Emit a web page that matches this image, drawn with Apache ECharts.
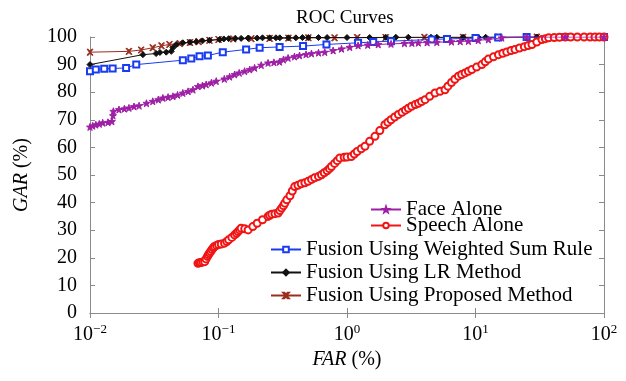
<!DOCTYPE html>
<html>
<head>
<meta charset="utf-8">
<script src="https://cdn.jsdelivr.net/npm/echarts@6/dist/echarts.min.js"></script>
<style>html,body{margin:0;padding:0;background:#fff;}#c{width:626px;height:381px;}</style>
</head>
<body>
<div id="c"></div>
<script>
var seriesNames = ['Face Alone', 'Speech Alone', 'Fusion Using Weighted Sum Rule', 'Fusion Using LR Method', 'Fusion Using Proposed Method'];
var xTicks = [0.01, 0.1, 1, 10, 100];
var yTicks = [0, 10, 20, 30, 40, 50, 60, 70, 80, 90, 100];

var faceAlone = [
  [0.01, 67.4], [0.0105, 67.8], [0.0111, 68.2], [0.0118, 68.5], [0.01256, 68.9], [0.0138, 69.1],
  [0.0148, 69.4], [0.0151, 71.5], [0.0152, 73.1], [0.0168, 73.7], [0.0185, 74.0],
  [0.0201, 74.3], [0.022, 74.8], [0.0241, 75.1], [0.0275, 76.0], [0.0308, 76.7], [0.034, 77.3],
  [0.0369, 77.9], [0.0405, 78.2], [0.0442, 78.5], [0.048, 79.0], [0.0528, 79.7], [0.058, 80.3],
  [0.0633, 80.9], [0.0692, 82.1], [0.075, 82.4], [0.0802, 82.8], [0.088, 83.4], [0.096, 84.0],
  [0.111, 84.8], [0.122, 85.6], [0.1334, 86.4], [0.145, 87.0],
  [0.1596, 87.6], [0.175, 88.2], [0.191, 88.8], [0.215, 89.8], [0.243, 90.6], [0.27, 90.8],
  [0.298, 91.0], [0.32, 91.8], [0.348, 92.4], [0.39, 92.9],
  [0.427, 93.3], [0.48, 93.7], [0.529, 94.0], [0.6, 94.3], [0.671, 94.5], [0.78, 95.1],
  [0.906, 95.7], [1.05, 96.3], [1.22, 96.9], [1.45, 97.1], [1.75, 97.3],
  [2.2, 97.5], [2.8, 97.7], [3.2, 97.8], [3.59, 97.9], [4.2, 98.0], [5.0, 98.1], [6.5, 98.3],
  [7.6, 98.4], [8.8, 98.5], [10.5, 98.8], [12.6, 99.1], [16, 99.7], [25, 100], [50, 100], [100, 100]
];
var speechAlone = [
  [0.0692, 18.0], [0.071, 18.2], [0.073, 18.3], [0.0755, 18.5], [0.0781, 18.6], [0.080, 19.6],
  [0.082, 20.5], [0.0835, 21.1], [0.0851, 21.7], [0.087, 22.3], [0.089, 23.0], [0.091, 23.6],
  [0.0931, 24.1], [0.0965, 24.5], [0.1, 24.8], [0.105, 25.0], [0.1114, 25.3], [0.116, 25.9],
  [0.12, 26.5], [0.127, 27.4], [0.1334, 28.3], [0.138, 28.9], [0.142, 29.5], [0.146, 30.1],
  [0.150, 30.7], [0.160, 30.5], [0.170, 30.1], [0.185, 31.3], [0.2, 32.5], [0.22, 33.8],
  [0.243, 35.0], [0.25, 35.4], [0.26, 35.8], [0.275, 36.0], [0.291, 36.2], [0.30, 37.1],
  [0.31, 38.0], [0.32, 38.9], [0.328, 39.8], [0.34, 41.0], [0.36, 42.5], [0.375, 44.2],
  [0.392, 45.8], [0.415, 46.3], [0.44, 46.8], [0.47, 47.2], [0.498, 47.7], [0.53, 48.4],
  [0.56, 49.0], [0.6, 49.5], [0.633, 50.1], [0.665, 50.8], [0.7, 51.5], [0.73, 52.3],
  [0.757, 53.1], [0.8, 54.2], [0.84, 55.2], [0.879, 56.2], [0.95, 56.4], [1.0, 56.5],
  [1.08, 56.7], [1.14, 57.6], [1.2, 58.5], [1.29, 59.5], [1.38, 60.4], [1.5, 62.2],
  [1.65, 64.0], [1.8, 66.1], [1.97, 68.2], [2.08, 69.1], [2.2, 70.0], [2.35, 71.0], [2.51, 71.9],
  [2.68, 72.7], [2.85, 73.5], [3.0, 74.2], [3.18, 74.9], [3.4, 75.5], [3.6, 76.0], [3.8, 76.6],
  [4.05, 77.3], [4.4, 78.5], [4.84, 79.7], [5.3, 80.3], [5.79, 80.9], [6.1, 82.2],
  [6.5, 83.5], [6.9, 84.7], [7.36, 85.8], [7.8, 86.4], [8.3, 87.0], [8.8, 87.6], [9.35, 88.2],
  [10.2, 89.1], [11.2, 90.0], [11.9, 91.0], [12.6, 92.0], [13.8, 92.8], [15.1, 93.6],
  [16.3, 94.1], [17.5, 94.6], [18.9, 95.1], [20.3, 95.5], [22, 96.0], [24, 96.5], [25.7, 96.9],
  [27.5, 97.3], [30, 98.2], [32.9, 99.1], [35, 99.4], [37.1, 99.7], [41, 99.8], [45, 99.9],
  [50, 100], [55, 100], [62, 100], [70, 100], [78, 100], [85, 100], [92, 100], [100, 100]
];
var weightedSum = [
  [0.01, 87.6], [0.0111, 88.2], [0.0129, 88.5], [0.015, 88.6], [0.0191, 88.8], [0.0229, 90.0],
  [0.0528, 91.6], [0.0614, 92.2], [0.0712, 93.0], [0.0827, 93.3], [0.108, 94.5], [0.164, 95.5],
  [0.209, 96.1], [0.299, 96.4], [0.455, 96.7], [0.692, 97.3], [1.22, 97.9], [1.6, 98.2],
  [2.2, 98.5], [4.56, 99.1], [6, 99.3], [10, 99.6], [15, 99.8], [25, 100], [50, 100], [100, 100]
];
var lrMethod = [
  [0.01, 90.0], [0.0258, 93.6], [0.0327, 94.0], [0.035, 94.4], [0.0392, 94.5], [0.0429, 94.8],
  [0.0442, 96.1], [0.0469, 97.3], [0.0528, 97.9], [0.06, 98.1], [0.0671, 98.3], [0.075, 98.6],
  [0.085, 98.8], [0.102, 99.1], [0.11, 99.3], [0.12, 99.4], [0.135, 99.5], [0.15, 99.5],
  [0.17, 99.6], [0.2, 99.6], [0.22, 99.7], [0.25, 99.7], [0.28, 99.7], [0.3, 99.7], [0.35, 99.7],
  [0.4, 99.7], [0.45, 99.8], [0.5, 99.8], [0.6, 99.8], [0.7, 99.8], [1.0, 99.8], [1.5, 99.8],
  [2, 99.9], [2.4, 99.9], [3, 99.9], [4.5, 99.9], [5, 99.9], [8, 99.9], [10.5, 99.9], [12, 99.9],
  [15, 100], [30, 100], [60, 100], [100, 100]
];
var proposedMethod = [
  [0.01, 94.5], [0.0201, 94.8], [0.025, 95.3], [0.0308, 96.1], [0.036, 96.8], [0.0415, 97.3],
  [0.05, 97.6], [0.06, 98.0], [0.07, 98.3], [0.085, 98.8], [0.1, 99.1], [0.13, 99.3],
  [0.18, 99.4], [0.25, 99.5], [0.35, 99.6], [0.5, 99.7], [0.8, 99.7], [1.2, 99.8], [2, 99.8],
  [4, 99.9], [8, 99.9], [15, 100], [30, 100], [60, 100], [100, 100]
];

var FONT = '"Liberation Serif", "DejaVu Serif", serif';
var starPath = 'path://M5,0 L6.2,3.6 L10,3.8 L7,6.1 L8.1,10 L5,7.7 L1.9,10 L3,6.1 L0,3.8 L3.8,3.6 Z';
var crossPath = 'path://M0,0 L2,0 L5,3 L8,0 L10,0 L6,5 L10,10 L8,10 L5,7 L2,10 L0,10 L4,5 Z';

var colors = ['#9e1fa6', '#f01414', '#1a3cf0', '#111111', '#9b2d1f'];
var datas = [faceAlone, speechAlone, weightedSum, lrMethod, proposedMethod];
var symbols = [starPath, 'emptyCircle', 'emptyRect', 'diamond', crossPath];
var sizes = [7, 7, 6, 6, 6];

var series = datas.map(function (d, i) {
  return {
    name: seriesNames[i], type: 'line', data: d, xAxisIndex: 0, yAxisIndex: 0,
    symbol: symbols[i], symbolSize: sizes[i], showAllSymbol: true,
    lineStyle: { color: colors[i], width: 1 },
    itemStyle: { color: colors[i], borderColor: colors[i], borderWidth: 1 },
    animation: false, z: 10 - i
  };
});

var legendPos = [[370, 199], [370, 215], [270, 239], [270, 262], [270, 285]];
var legends = seriesNames.map(function (n, i) {
  return {
    data: [n], left: legendPos[i][0], top: legendPos[i][1], padding: 0,
    itemWidth: 30, itemHeight: 7, selectedMode: false,
    textStyle: { fontFamily: FONT, fontSize: 21, color: '#000' }
  };
});

var axisLineStyle = { color: '#8a8a8a', width: 1 };
var option = {
  backgroundColor: '#fff',
  animation: false,
  title: {
    text: 'ROC Curves', left: 296, top: 9, padding: 0,
    textStyle: { fontFamily: FONT, fontSize: 19, fontWeight: 'normal', color: '#000' }
  },
  legend: legends,
  grid: { left: 90, right: 22, top: 37, bottom: 68 },
  xAxis: [{
    type: 'log', logBase: 10, min: xTicks[0], max: xTicks[xTicks.length - 1], position: 'bottom',
    name: '{i|FAR} (%)', nameLocation: 'middle', nameGap: 36,
    nameTextStyle: {
      fontFamily: FONT, fontSize: 20, color: '#000',
      rich: { i: { fontStyle: 'italic', fontFamily: FONT, fontSize: 20 } }
    },
    axisLine: { lineStyle: axisLineStyle },
    axisTick: { inside: true, length: 5, lineStyle: axisLineStyle },
    splitLine: { show: false },
    axisLabel: {
      margin: 10, color: '#000',
      formatter: function (v) {
        var e = Math.round(Math.log10(v));
        return '{b|10}{s|' + (e < 0 ? '\u2212' + (-e) : e) + '}';
      },
      rich: {
        b: { fontFamily: FONT, fontSize: 20, color: '#000', lineHeight: 22, verticalAlign: 'bottom' },
        s: { fontFamily: FONT, fontSize: 13, color: '#000', lineHeight: 22, verticalAlign: 'top' }
      }
    }
  }, {
    type: 'log', logBase: 10, min: xTicks[0], max: xTicks[xTicks.length - 1], position: 'top',
    axisLine: { lineStyle: axisLineStyle },
    axisTick: { inside: true, length: 5, lineStyle: axisLineStyle },
    axisLabel: { show: false }, splitLine: { show: false }
  }],
  yAxis: [{
    type: 'value', min: yTicks[0], max: yTicks[yTicks.length - 1], interval: 10, position: 'left',
    name: '{i|GAR} (%)', nameLocation: 'middle', nameGap: 58,
    nameTextStyle: {
      fontFamily: FONT, fontSize: 20, color: '#000',
      rich: { i: { fontStyle: 'italic', fontFamily: FONT, fontSize: 20 } }
    },
    axisLine: { show: true, lineStyle: axisLineStyle },
    axisTick: { show: true, inside: true, length: 5, lineStyle: axisLineStyle },
    splitLine: { show: false },
    axisLabel: { margin: 13, fontFamily: FONT, fontSize: 20, color: '#000' }
  }, {
    type: 'value', min: yTicks[0], max: yTicks[yTicks.length - 1], interval: 10, position: 'right',
    axisLine: { show: true, lineStyle: axisLineStyle },
    axisTick: { show: true, inside: true, length: 5, lineStyle: axisLineStyle },
    axisLabel: { show: false }, splitLine: { show: false }
  }],
  series: series
};

var chart = echarts.init(document.getElementById('c'), null, { renderer: 'canvas' });
chart.setOption(option);
</script>
</body>
</html>
